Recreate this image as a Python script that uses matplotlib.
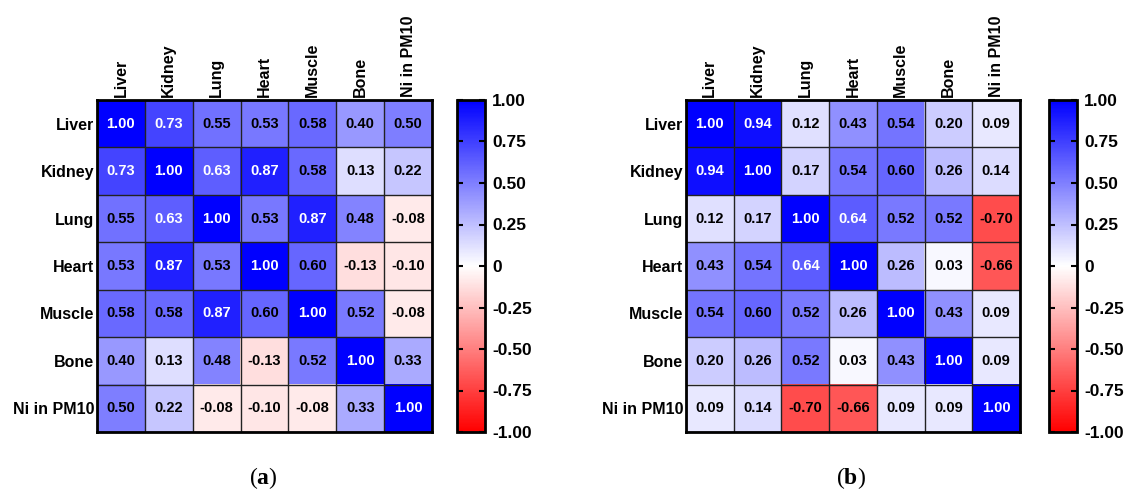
import numpy as np
import matplotlib.pyplot as plt
from matplotlib.colors import LinearSegmentedColormap

plt.rcParams['font.family'] = ['Liberation Sans', 'DejaVu Sans']
plt.rcParams['mathtext.fontset'] = 'custom'
plt.rcParams['mathtext.rm'] = 'Liberation Serif'
plt.rcParams['mathtext.bf'] = 'Liberation Serif:bold'

# Data
labels = ["Liver", "Kidney", "Lung", "Heart", "Muscle", "Bone", "Ni in PM10"]

corr_a = np.array([
    [1.00, 0.73, 0.55, 0.53, 0.58, 0.40, 0.50],
    [0.73, 1.00, 0.63, 0.87, 0.58, 0.13, 0.22],
    [0.55, 0.63, 1.00, 0.53, 0.87, 0.48, -0.08],
    [0.53, 0.87, 0.53, 1.00, 0.60, -0.13, -0.10],
    [0.58, 0.58, 0.87, 0.60, 1.00, 0.52, -0.08],
    [0.40, 0.13, 0.48, -0.13, 0.52, 1.00, 0.33],
    [0.50, 0.22, -0.08, -0.10, -0.08, 0.33, 1.00],
])

corr_b = np.array([
    [1.00, 0.94, 0.12, 0.43, 0.54, 0.20, 0.09],
    [0.94, 1.00, 0.17, 0.54, 0.60, 0.26, 0.14],
    [0.12, 0.17, 1.00, 0.64, 0.52, 0.52, -0.70],
    [0.43, 0.54, 0.64, 1.00, 0.26, 0.03, -0.66],
    [0.54, 0.60, 0.52, 0.26, 1.00, 0.43, 0.09],
    [0.20, 0.26, 0.52, 0.03, 0.43, 1.00, 0.09],
    [0.09, 0.14, -0.70, -0.66, 0.09, 0.09, 1.00],
])

cbar_ticks = [1.0, 0.75, 0.5, 0.25, 0.0, -0.25, -0.5, -0.75, -1.0]
cbar_labels = ["1.00", "0.75", "0.50", "0.25", "0", "-0.25", "-0.50", "-0.75", "-1.00"]

cmap = LinearSegmentedColormap.from_list("rwb", ["#ff0000", "#ffffff", "#0000ff"])

W, H = 1129, 493
fig = plt.figure(figsize=(W / 100, H / 100), dpi=100)


def px(x0, y0, x1, y1):
    return [x0 / W, 1 - y1 / H, (x1 - x0) / W, (y1 - y0) / H]


def draw_panel(data, hm_box, cb_box, tag, tag_x):
    ax = fig.add_axes(px(*hm_box))
    n = len(labels)
    im = ax.imshow(data, cmap=cmap, vmin=-1, vmax=1, aspect='auto')
    for i in range(n):
        for j in range(n):
            v = data[i, j]
            ax.text(j, i, f"{v:.2f}", ha='center', va='center', fontsize=10.5,
                    fontweight='bold', color='white' if v >= 0.62 else 'black')
    ax.set_xticks(range(n))
    ax.set_yticks(range(n))
    ax.set_xticklabels(labels, rotation=90, fontsize=11.5, fontweight='bold')
    ax.set_yticklabels(labels, fontsize=11.5, fontweight='bold')
    ax.xaxis.tick_top()
    ax.tick_params(length=0, pad=2)
    ax.set_xticks(np.arange(-0.5, n, 1), minor=True)
    ax.set_yticks(np.arange(-0.5, n, 1), minor=True)
    ax.grid(which='minor', color='#222222', linewidth=1)
    ax.tick_params(which='minor', length=0)
    for s in ax.spines.values():
        s.set_linewidth(2)

    cax = fig.add_axes(px(*cb_box))
    cb = fig.colorbar(im, cax=cax)
    cb.set_ticks(cbar_ticks)
    cb.set_ticklabels(cbar_labels)
    cb.minorticks_off()
    cb.outline.set_linewidth(2)
    cax.yaxis.set_ticks_position('both')
    cax.tick_params(direction='in', length=4, width=1.5, labelsize=12.5,
                    left=True, right=True, labelright=True, labelleft=False, pad=5)
    for t in cax.get_yticklabels():
        t.set_fontweight('bold')

    fig.text(tag_x / W, 1 - 478 / H, r"($\mathbf{" + tag + r"}$)", ha='center', va='center',
             fontsize=17, family='Liberation Serif')


draw_panel(corr_a, (97, 100, 432, 432), (457, 100, 485, 432), "a", 263)
draw_panel(corr_b, (686, 100, 1020, 432), (1049, 100, 1077, 432), "b", 851)

fig.savefig("out.png", dpi=100)
